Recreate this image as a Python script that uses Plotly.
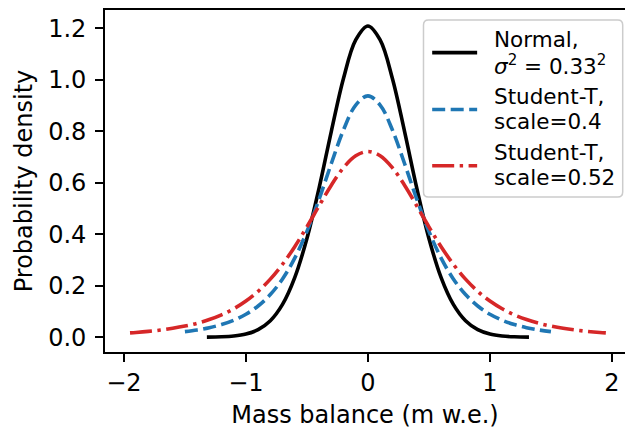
import plotly.graph_objects as go

# --- data ---
x_norm = [-1.32, -1.2, -1.1, -1.0, -0.9, -0.8, -0.7, -0.6, -0.5, -0.4, -0.3, -0.2, -0.1, 0.0,
          0.1, 0.2, 0.3, 0.4, 0.5, 0.6, 0.7, 0.8, 0.9, 1.0, 1.1, 1.2, 1.32]
y_norm = [0.0004, 0.0016, 0.0047, 0.0123, 0.0293, 0.0640, 0.1274, 0.2315, 0.3836, 0.5800, 0.7997, 1.0060, 1.1547, 1.2089,
          1.1547, 1.0060, 0.7997, 0.5800, 0.3836, 0.2315, 0.1274, 0.0640, 0.0293, 0.0123, 0.0047, 0.0016, 0.0004]

x_t04 = [-1.5, -1.4, -1.3, -1.2, -1.1, -1.0, -0.9, -0.8, -0.7, -0.6, -0.5, -0.4, -0.3, -0.2, -0.1, 0.0,
         0.1, 0.2, 0.3, 0.4, 0.5, 0.6, 0.7, 0.8, 0.9, 1.0, 1.1, 1.2, 1.3, 1.4, 1.5]
y_t04 = [0.0216, 0.0282, 0.0371, 0.0492, 0.0660, 0.0892, 0.1213, 0.1657, 0.2263, 0.3072, 0.4111, 0.5367, 0.6747, 0.8057, 0.9019, 0.9375,
         0.9019, 0.8057, 0.6747, 0.5367, 0.4111, 0.3072, 0.2263, 0.1657, 0.1213, 0.0892, 0.0660, 0.0492, 0.0371, 0.0282, 0.0216]

x_t052 = [-1.95, -1.9, -1.8, -1.7, -1.6, -1.5, -1.4, -1.3, -1.2, -1.1, -1.0, -0.9, -0.8, -0.7, -0.6, -0.5, -0.4, -0.3, -0.2, -0.1, 0.0,
          0.1, 0.2, 0.3, 0.4, 0.5, 0.6, 0.7, 0.8, 0.9, 1.0, 1.1, 1.2, 1.3, 1.4, 1.5, 1.6, 1.7, 1.8, 1.9, 1.95]
y_t052 = [0.0167, 0.0184, 0.0226, 0.0279, 0.0347, 0.0433, 0.0543, 0.0686, 0.0869, 0.1104, 0.1404, 0.1783, 0.2256, 0.2834, 0.3517, 0.4288, 0.5108, 0.5906, 0.6586, 0.7048, 0.7212,
          0.7048, 0.6586, 0.5906, 0.5108, 0.4288, 0.3517, 0.2834, 0.2256, 0.1783, 0.1404, 0.1104, 0.0869, 0.0686, 0.0543, 0.0433, 0.0347, 0.0279, 0.0226, 0.0184, 0.0167]

legend_lines = [["Normal,", "<i>σ</i><sup>2</sup> = 0.33<sup>2</sup>"],
                ["Student-T,", "scale=0.4"],
                ["Student-T,", "scale=0.52"]]
x_ticks = [-2, -1, 0, 1, 2]
y_ticks = [0.0, 0.2, 0.4, 0.6, 0.8, 1.0, 1.2]

colors = ["black", "#1f77b4", "#d62728"]
dashes = ["solid", "13px,5.5px", "22px,5.5px,3.4px,5.5px"]

FONT = "DejaVu Sans"
FS = 24
LFS = 21.5
LW = 3.6

W, H = 625, 429
ML, MR, MT, MB = 104.5, 0, 10, 76.5
PW, PH = W - ML - MR, H - MT - MB


def px(x):
    return (x - ML) / PW


def py(y):
    return (H - MB - y) / PH


fig = go.Figure()
series = [(x_norm, y_norm), (x_t04, y_t04), (x_t052, y_t052)]
for i, (xs, ys) in enumerate(series):
    fig.add_trace(go.Scatter(x=xs, y=ys, mode="lines",
                             name=" ".join(legend_lines[i]).replace("<i>", "").replace("</i>", ""),
                             showlegend=False,
                             line=dict(color=colors[i], width=LW, shape="spline", dash=dashes[i])))

# --- legend drawn by hand (matplotlib style) ---
bx0, bx1, by0, by1, r = 423.3, 622.7, 20.0, 197.3, 5.0
path = (f"M {px(bx0 + r)},{py(by0)} L {px(bx1 - r)},{py(by0)} Q {px(bx1)},{py(by0)} {px(bx1)},{py(by0 + r)} "
        f"L {px(bx1)},{py(by1 - r)} Q {px(bx1)},{py(by1)} {px(bx1 - r)},{py(by1)} "
        f"L {px(bx0 + r)},{py(by1)} Q {px(bx0)},{py(by1)} {px(bx0)},{py(by1 - r)} "
        f"L {px(bx0)},{py(by0 + r)} Q {px(bx0)},{py(by0)} {px(bx0 + r)},{py(by0)} Z")
shapes = [dict(type="path", path=path, xref="paper", yref="paper",
               fillcolor="rgba(255,255,255,0.85)", line=dict(color="#cccccc", width=1.5), layer="above")]
annotations = []
row_y = [52.7, 109.7, 166.0]
for i in range(3):
    shapes.append(dict(type="line", xref="paper", yref="paper",
                       x0=px(432), x1=px(477), y0=py(row_y[i]), y1=py(row_y[i]),
                       line=dict(color=colors[i], width=LW, dash=dashes[i]), layer="above"))
    for j, txt in enumerate(legend_lines[i]):
        annotations.append(dict(text=txt, xref="paper", yref="paper", showarrow=False,
                                x=px(492), y=py(row_y[i] - 13.5 + 25.5 * j),
                                xanchor="left", yanchor="middle",
                                font=dict(family=FONT, size=LFS, color="black")))

fig.update_layout(
    width=W, height=H,
    margin=dict(l=ML, r=MR, t=MT, b=MB),
    paper_bgcolor="white", plot_bgcolor="white",
    font=dict(family=FONT, size=FS, color="black"),
    showlegend=False,
    shapes=shapes, annotations=annotations,
    xaxis=dict(range=[-2.155, 2.107], tickvals=x_ticks, ticktext=["−2", "−1", "0", "1", "2"],
               showgrid=False, zeroline=False, showline=True, linecolor="black", linewidth=1.6,
               mirror=True, ticks="outside", ticklen=8, tickwidth=1.6, tickcolor="black",
               tickfont=dict(size=FS),
               title=dict(text="Mass balance (m w.e.)", standoff=13, font=dict(size=FS))),
    yaxis=dict(range=[-0.0574, 1.271], tickvals=y_ticks, ticktext=[f"{v:.1f}" for v in y_ticks],
               showgrid=False, zeroline=False, showline=True, linecolor="black", linewidth=1.6,
               mirror=False, ticks="outside", ticklen=8, tickwidth=1.6, tickcolor="black",
               ticklabelstandoff=4, tickfont=dict(size=FS),
               title=dict(text="Probability density", standoff=9, font=dict(size=FS))),
)

fig.write_html("out.html")
